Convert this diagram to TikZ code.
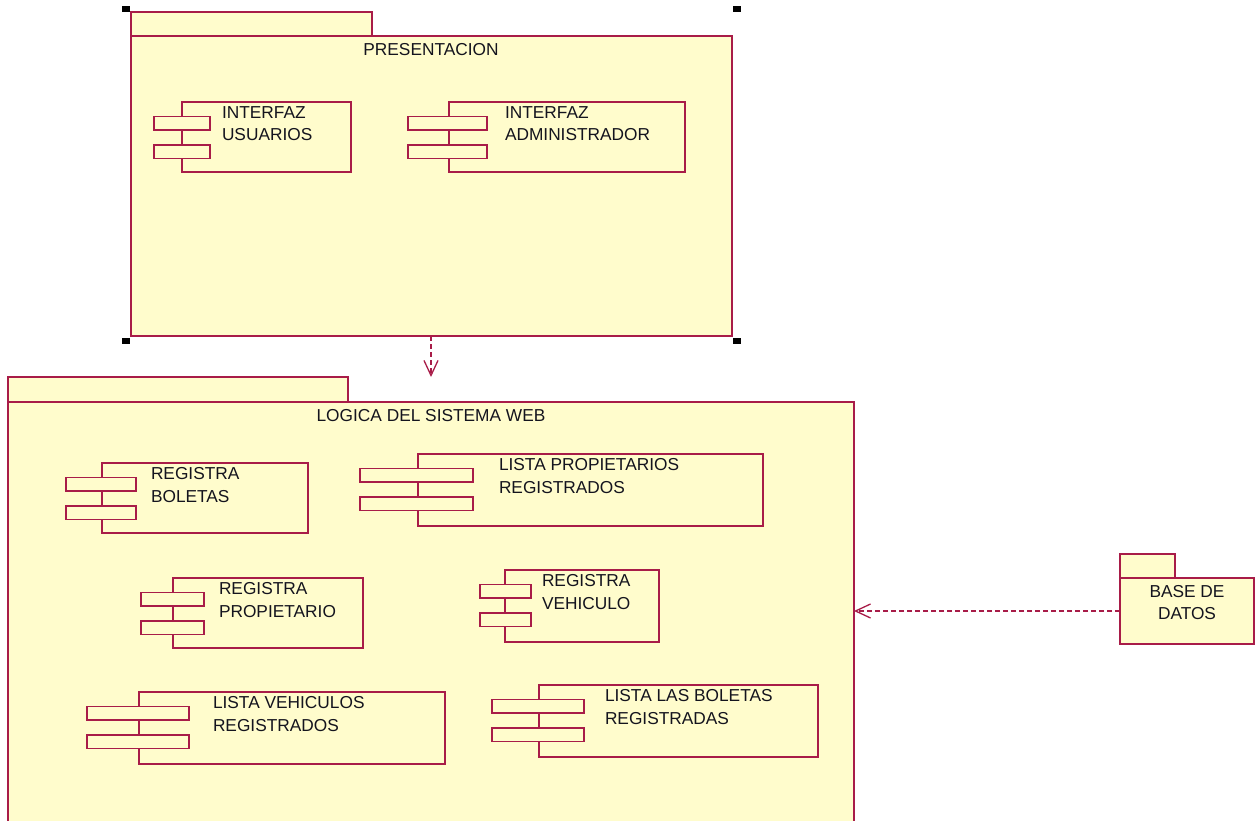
\documentclass[tikz,border=0pt]{standalone}
\usepackage{fontspec}
\setmainfont{Liberation Sans}
\usetikzlibrary{arrows.meta}

\definecolor{umlline}{RGB}{168,28,72}
\definecolor{umlfill}{RGB}{255,252,204}
\definecolor{umltext}{RGB}{20,20,30}

\tikzset{
  box/.style={draw=umlline, fill=umlfill, line width=1.3pt, inner sep=0pt,
    outer sep=0pt, anchor=north west},
  lbl/.style={text=umltext, inner sep=0pt, outer sep=0pt,
    font=\fontsize{17.3}{22.5}\selectfont, align=left, anchor=north west},
  dep/.style={draw=umlline, line width=1.5pt, dash pattern=on 5pt off 3pt,
    -{Straight Barb[length=15pt,width=14pt,line width=1.3pt]}},
  handle/.style={fill=black, draw=none, minimum width=8pt, minimum height=6pt,
    inner sep=0pt}
}

% component: name, x1, y1, x2, y2, port x1, port x2, label x, label
\newcommand{\umlcomp}[9]{%
  \node[box, minimum width={(#4-#2)*1pt}, minimum height={(#5-#3)*1pt}] (#1) at (#2,#3) {};
  \node[box, minimum width={(#7-#6)*1pt}, minimum height=13.5pt] (#1-a) at (#6,#3+14.5) {};
  \node[box, minimum width={(#7-#6)*1pt}, minimum height=13.5pt] (#1-b) at (#6,#3+43) {};
  \node[lbl] (#1-t) at (#8,#3+4.5) {#9};
}

\begin{document}
\begin{tikzpicture}[x=1pt, y=-1pt]
\useasboundingbox (0,0) rectangle (1257,821);

% package PRESENTACION
\node[box, minimum width=241pt, minimum height=24pt] (pres-tab) at (131,12) {};
\node[box, minimum width=601pt, minimum height=300pt] (pres) at (131,36) {};
\node[lbl, anchor=north] (pres-title) at (431,43) {PRESENTACION};

% selection handles
\node[handle] (h1) at (126,9) {};
\node[handle] (h2) at (737,9) {};
\node[handle] (h3) at (126,341) {};
\node[handle] (h4) at (737,341) {};

\umlcomp{cUsuarios}{182}{102}{351}{172}{154}{210}{222}{INTERFAZ\\USUARIOS}
\umlcomp{cAdmin}{449}{102}{685}{172}{408}{487}{505}{INTERFAZ\\ADMINISTRADOR}

% package LOGICA DEL SISTEMA WEB
\node[box, minimum width=340pt, minimum height=25pt] (logic-tab) at (8,377) {};
\node[box, minimum width=846pt, minimum height=440pt] (logic) at (8,402) {};
\node[lbl, anchor=north] (logic-title) at (431,409) {LOGICA DEL SISTEMA WEB};

\umlcomp{cRegBoletas}{102}{463}{308}{533}{66}{136}{151}{REGISTRA\\BOLETAS}
\umlcomp{cListaProp}{418}{454}{763}{526}{360}{473}{499}{LISTA PROPIETARIOS\\REGISTRADOS}
\umlcomp{cRegProp}{173}{578}{363}{648}{141}{204}{219}{REGISTRA\\PROPIETARIO}
\umlcomp{cRegVeh}{505}{570}{659}{642}{480}{531}{542}{REGISTRA\\VEHICULO}
\umlcomp{cListaVeh}{139}{692}{445}{764}{87}{189}{213}{LISTA VEHICULOS\\REGISTRADOS}
\umlcomp{cListaBol}{539}{685}{818}{757}{492}{584}{605}{LISTA LAS BOLETAS\\REGISTRADAS}

% package BASE DE DATOS
\node[box, minimum width=55pt, minimum height=24pt] (base-tab) at (1120,554) {};
\node[box, minimum width=134pt, minimum height=66pt] (base) at (1120,578) {};
\node[lbl, anchor=north, align=center, font=\fontsize{17.3}{22}\selectfont]
  (base-title) at (1187,585) {BASE DE\\DATOS};

% dependencies
\coordinate (presdep) at (431,377);
\draw[dep] (pres.south -| presdep) -- (presdep);
\draw[dep] (base.west) -- (logic.east |- base.west);
\end{tikzpicture}
\end{document}
